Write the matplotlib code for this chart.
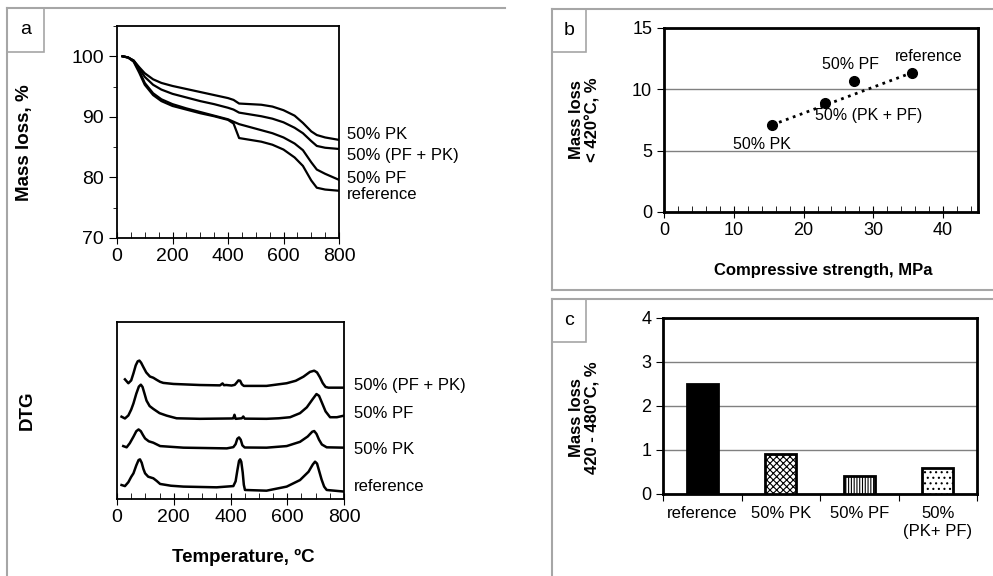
import numpy as np
import matplotlib.pyplot as plt
from matplotlib.lines import Line2D
from matplotlib.patches import Rectangle

plt.rcParams['font.family'] = ['Liberation Sans', 'DejaVu Sans']
plt.rcParams['hatch.linewidth'] = 0.8

# --- panel a, TG curves (mass, %) ---
tg_temp = [20, 40, 60, 80, 100, 130, 160, 200, 250, 300, 350, 400, 420, 440,
           480, 520, 560, 600, 640, 670, 700, 720, 750, 800]
tg_pk = [100, 99.8, 99.3, 98.2, 97.2, 96.2, 95.6, 95.1, 94.6, 94.1, 93.6, 93.1,
         92.8, 92.2, 92.1, 92.0, 91.7, 91.1, 90.2, 89.0, 87.6, 87.0, 86.6, 86.2]
tg_pfpk = [100, 99.8, 99.3, 98.0, 96.6, 95.3, 94.5, 93.8, 93.2, 92.6, 92.1, 91.5,
           91.2, 90.7, 90.4, 90.1, 89.7, 89.1, 88.2, 87.3, 86.0, 85.2, 84.9, 84.7]
tg_pf = [100, 99.8, 99.2, 97.6, 95.6, 93.9, 92.9, 92.1, 91.4, 90.8, 90.2, 89.6,
         89.2, 88.8, 88.3, 87.8, 87.3, 86.6, 85.6, 84.5, 82.5, 81.3, 80.6, 79.6]
tg_ref = [100, 99.8, 99.1, 97.3, 95.3, 93.6, 92.6, 91.8, 91.2, 90.6, 90.1, 89.5,
          88.9, 86.5, 86.2, 85.9, 85.4, 84.6, 83.3, 81.9, 79.5, 78.3, 78.0, 77.8]
tg_labels = ['50% PK', '50% (PF + PK)', '50% PF', 'reference']
tg_label_y = [87.1, 83.7, 79.9, 77.1]

# --- panel a, DTG curves (arbitrary units, stacked) ---
dtg_pfpk_t = [28, 40, 50, 58, 66, 73, 79, 85, 93, 103, 116, 128, 140, 152, 163, 199,
              292, 363, 372, 377, 385, 404, 415, 422, 428, 434, 440, 447, 527, 598,
              630, 657, 680, 695, 705, 715, 725, 735, 745, 800]
dtg_pfpk = [67.6, 65.4, 67, 71, 75.5, 77.8, 78.2, 77, 74.5, 71.5, 69.2, 68.5, 67.3,
            66.2, 65.6, 65, 64.4, 64.2, 65.3, 64.3, 64.4, 64.1, 64.5, 65.8, 67, 66.8,
            64.8, 63.9, 63.9, 65.4, 66.8, 69.1, 71.8, 72.5, 71.5, 68.8, 65.5, 63.3,
            62.9, 62.9]
dtg_pf_t = [16, 28, 40, 50, 58, 68, 77, 84, 90, 97, 104, 115, 128, 150, 175, 210, 292,
            405, 410, 414, 418, 440, 445, 450, 527, 570, 610, 645, 669, 690, 703, 712,
            722, 735, 751, 775, 800]
dtg_pf = [46.5, 45.5, 47.2, 50.5, 54, 59.5, 63.5, 64.6, 63.3, 59.5, 55.6, 52.5, 50.9,
          48.5, 47.1, 45.6, 45.3, 45.5, 45.6, 47.6, 45.3, 45.6, 46.6, 45.4, 45.3, 45.6,
          46.2, 48.5, 51.8, 56.5, 59.3, 58.3, 54.5, 49.5, 46.2, 46.2, 47.1]
dtg_pk_t = [22, 34, 45, 58, 68, 76, 84, 92, 99, 112, 128, 152, 234, 387, 410, 418,
            424, 430, 436, 442, 450, 527, 598, 645, 672, 688, 695, 703, 712, 722, 739,
            800]
dtg_pk = [29.9, 29.2, 31.5, 35.2, 38.3, 39.3, 38.3, 36, 34.2, 32.6, 31.8, 29.9, 29,
          28.6, 29.3, 31, 34, 34.8, 33.5, 30.3, 29.1, 29, 29.9, 32.3, 35.3, 38, 38.4,
          36.8, 33.5, 30.8, 29.2, 29]
dtg_ref_t = [16, 28, 40, 50, 58, 68, 76, 81, 87, 93, 99, 110, 128, 140, 152, 190, 234,
             351, 410, 418, 424, 430, 434, 438, 443, 447, 451, 527, 598, 645, 675, 690,
             698, 705, 713, 721, 730, 739, 800]
dtg_ref = [7.9, 7.3, 9.5, 12.5, 14.5, 19, 22, 22.4, 20.5, 17, 14.5, 12.6, 11.7, 10.2,
           8.5, 7.5, 7.0, 6.6, 7.3, 10, 16, 21.5, 22.4, 21, 15, 8, 5.1, 4.7, 7.0, 10.7,
           15.4, 19.5, 21.1, 20, 15.5, 11, 7, 5.1, 4.2]
dtg_labels = ['50% (PF + PK)', '50% PF', '50% PK', 'reference']
dtg_label_y = [64.4, 48.4, 27.7, 7.3]

# --- panel b ---
strength = [15.5, 23.1, 27.3, 35.5]
loss_420 = [7.1, 8.9, 10.7, 11.35]
b_labels = ['50% PK', '50% (PK + PF)', '50% PF', 'reference']
b_label_xy = [(14.0, 5.5), (29.3, 7.9), (26.7, 12.0), (38.0, 12.65)]

# --- panel c ---
c_categories = ['reference', '50% PK', '50% PF', '50%\n(PK+ PF)']
loss_420_480 = [2.5, 0.9, 0.4, 0.6]
c_hatches = ['', 'xxxxx', '||||||', '...']
c_colors = ['black', 'white', 'white', 'white']

W, H = 993, 576
gray = '#a6a6a6'


def fx(px):
    return px / W


def fy(py):
    return 1 - py / H


fig = plt.figure(figsize=(W / 100, H / 100), dpi=100)

# panel frames
for xs, ys in [([7, 7], [8, 576]), ([7, 505], [8, 8]),
               ([552, 552], [9, 290]), ([552, 993], [9, 9]), ([552, 993], [290, 290]),
               ([552, 552], [299, 576]), ([552, 993], [299, 299])]:
    fig.add_artist(Line2D([fx(x) for x in xs], [fy(y) for y in ys], color=gray,
                          lw=1.5, transform=fig.transFigure))
for (x0, y0, x1, y1), tag in [((7, 8, 44, 52), 'a'), ((552, 9, 586, 52), 'b'),
                              ((552, 299, 586, 342), 'c')]:
    fig.add_artist(Rectangle((fx(x0), fy(y1)), fx(x1) - fx(x0), fy(y0) - fy(y1),
                             fill=False, edgecolor=gray, lw=1.2,
                             transform=fig.transFigure))
    fig.text(fx((x0 + x1) / 2), fy((y0 + y1) / 2), tag, ha='center', va='center',
             fontsize=14)

# TG
ax1 = fig.add_axes([fx(117), fy(238), fx(339) - fx(117), fy(26) - fy(238)])
for y in [tg_pk, tg_pfpk, tg_pf, tg_ref]:
    ax1.plot(tg_temp, y, color='black', lw=1.6)
ax1.set_xlim(0, 800)
ax1.set_ylim(70, 105)
ax1.set_xticks(range(0, 801, 200))
ax1.set_xticks(range(0, 801, 50), minor=True)
ax1.set_yticks([70, 80, 90, 100])
ax1.set_yticks([75, 85, 95, 105], minor=True)
for lab, y in zip(tg_labels, tg_label_y):
    ax1.text(828, y, lab, fontsize=12, va='center', ha='left', clip_on=False)

# DTG
ax2 = fig.add_axes([fx(117), fy(499), fx(344) - fx(117), fy(322) - fy(499)])
for t, y in [(dtg_pfpk_t, dtg_pfpk), (dtg_pf_t, dtg_pf), (dtg_pk_t, dtg_pk),
             (dtg_ref_t, dtg_ref)]:
    ax2.plot(t, y, color='black', lw=1.8)
ax2.set_xlim(0, 800)
ax2.set_ylim(0, 100)
ax2.set_xticks(range(0, 801, 200))
ax2.set_xticks(range(0, 801, 50), minor=True)
ax2.set_yticks([])
for lab, y in zip(dtg_labels, dtg_label_y):
    ax2.text(835, y, lab, fontsize=12, va='center', ha='left', clip_on=False)

for ax in (ax1, ax2):
    for s in ax.spines.values():
        s.set_linewidth(1.3)
    ax.tick_params(axis='y', which='major', direction='out', length=6, labelsize=14)
    ax.tick_params(axis='y', which='minor', direction='out', length=3)
    ax.tick_params(axis='x', which='major', direction='inout', length=8, labelsize=14)
    ax.tick_params(axis='x', which='minor', direction='in', length=4)

fig.text(fx(25), fy(143), 'Mass loss, %', rotation=90, ha='center', va='center',
         fontsize=13.5, fontweight='bold')
fig.text(fx(27), fy(410), 'DTG', rotation=90, ha='center', va='center',
         fontsize=13.5, fontweight='bold')
fig.text(fx(243), fy(557), 'Temperature, ºC', ha='center', va='center',
         fontsize=13.5, fontweight='bold')

# panel b
bx = fig.add_axes([fx(664), fy(212), fx(978) - fx(664), fy(28) - fy(212)])
order = np.argsort(strength)
sx = np.array(strength)[order]
sy = np.array(loss_420)[order]
bx.plot([sx[0], sx[-1]], [sy[0], sy[-1]], color='black', ls=':', lw=2, zorder=3)
bx.plot(strength, loss_420, 'o', color='black', ms=7, zorder=4)
for lab, (x, y) in zip(b_labels, b_label_xy):
    bx.text(x, y, lab, fontsize=11.5, ha='center', va='center')
bx.set_xlim(0, 45)
bx.set_ylim(0, 15)
bx.set_xticks(range(0, 41, 10))
bx.set_xticks(range(0, 45, 2), minor=True)
bx.set_yticks([0, 5, 10, 15])
bx.grid(axis='y', color='#808080', lw=1)
bx.set_axisbelow(True)
bx.tick_params(axis='x', which='major', direction='inout', length=8, labelsize=13)
bx.tick_params(axis='x', which='minor', direction='in', length=4)
bx.tick_params(axis='y', direction='out', length=5, labelsize=13)
for s in bx.spines.values():
    s.set_linewidth(2)
fig.text(fx(823), fy(270), 'Compressive strength, MPa', ha='center', va='center',
         fontsize=12, fontweight='bold')
fig.text(fx(585), fy(120), 'Mass loss\n< 420°C, %', rotation=90, ha='center',
         va='center', fontsize=12, fontweight='bold', linespacing=1.1)

# panel c
cx = fig.add_axes([fx(663), fy(494), fx(977) - fx(663), fy(318) - fy(494)])
pos = np.arange(len(c_categories))
cx.bar(pos, loss_420_480, width=0.4, color=c_colors, hatch=c_hatches,
       edgecolor='black', lw=2, zorder=3)
cx.set_xlim(-0.5, len(c_categories) - 0.5)
cx.set_ylim(0, 4)
cx.set_yticks([0, 1, 2, 3, 4])
cx.set_xticks(np.arange(len(c_categories) + 1) - 0.5)
cx.set_xticklabels([])
cx.set_xticks(pos, minor=True)
cx.set_xticklabels(c_categories, minor=True, fontsize=12)
cx.tick_params(axis='x', which='major', direction='out', length=5)
cx.tick_params(axis='x', which='minor', length=0, pad=9)
cx.tick_params(axis='y', direction='out', length=5, labelsize=13)
cx.grid(axis='y', color='#808080', lw=1)
cx.set_axisbelow(True)
for s in cx.spines.values():
    s.set_linewidth(2)
fig.text(fx(585), fy(418), 'Mass loss\n420 - 480°C, %', rotation=90, ha='center',
         va='center', fontsize=12, fontweight='bold', linespacing=1.1)

fig.savefig('out.png', dpi=100)
